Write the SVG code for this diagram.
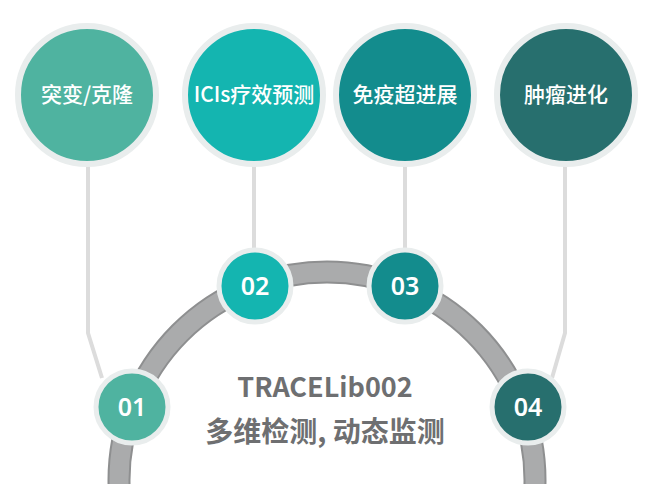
<svg xmlns="http://www.w3.org/2000/svg" width="652" height="503" viewBox="0 0 652 503">
<style>
.big{stroke:#e9eded;stroke-width:6}
.sm{stroke:#e9eded;stroke-width:5}
.lbl{font-family:"Noto Sans CJK SC","Noto Sans",sans-serif;font-size:21px;font-weight:500;fill:#fff;text-anchor:middle}
.num{font-family:"Noto Sans","Open Sans",sans-serif;font-size:25px;font-weight:600;fill:#fff;text-anchor:middle}
.cn{stroke:#dcdcdc;stroke-width:4;fill:none}
.ttl{font-family:"Noto Sans CJK SC","Noto Sans",sans-serif;font-weight:700;fill:#6e6f71;text-anchor:middle}
</style>
<rect width="652" height="503" fill="#fff"/>
<clipPath id="c"><rect x="0" y="0" width="652" height="484"/></clipPath>
<g id="arc" clip-path="url(#c)">
<circle cx="327" cy="480" r="208" fill="none" stroke="#8e8f90" stroke-width="23"/>
<circle cx="327" cy="480" r="208" fill="none" stroke="#aaabac" stroke-width="19"/>
</g>
<g id="connectors">
<polyline class="cn" points="88,165 88,333 102,378"/>
<polyline class="cn" points="565,165 565,333 552,378"/>
<line class="cn" x1="254" y1="165" x2="254" y2="252"/>
<line class="cn" x1="405" y1="165" x2="405" y2="252"/>
</g>
<g id="n1"><circle class="big" cx="87" cy="95" r="69" fill="#4fb3a0"/><text class="lbl" x="87" y="102">突变/克隆</text></g>
<g id="n2"><circle class="big" cx="254" cy="95" r="69" fill="#14b5b0"/><text class="lbl" x="254" y="102">ICIs疗效预测</text></g>
<g id="n3"><circle class="big" cx="405" cy="95" r="69" fill="#138c8d"/><text class="lbl" x="405" y="102">免疫超进展</text></g>
<g id="n4"><circle class="big" cx="566" cy="95" r="69" fill="#276f6e"/><text class="lbl" x="566" y="102">肿瘤进化</text></g>
<g id="s1"><circle class="sm" cx="132" cy="407" r="36" fill="#4fb3a0"/><text class="num" x="132" y="416">01</text></g>
<g id="s2"><circle class="sm" cx="255" cy="286" r="36" fill="#14b5b0"/><text class="num" x="255" y="295">02</text></g>
<g id="s3"><circle class="sm" cx="405" cy="286" r="36" fill="#138c8d"/><text class="num" x="405" y="295">03</text></g>
<g id="s4"><circle class="sm" cx="528" cy="407" r="36" fill="#276f6e"/><text class="num" x="528" y="416">04</text></g>
<g id="title">
<text class="ttl" x="325" y="397" font-size="27">TRACELib002</text>
<text class="ttl" x="325" y="442" font-size="28">多维检测, 动态监测</text>
</g>
</svg>
